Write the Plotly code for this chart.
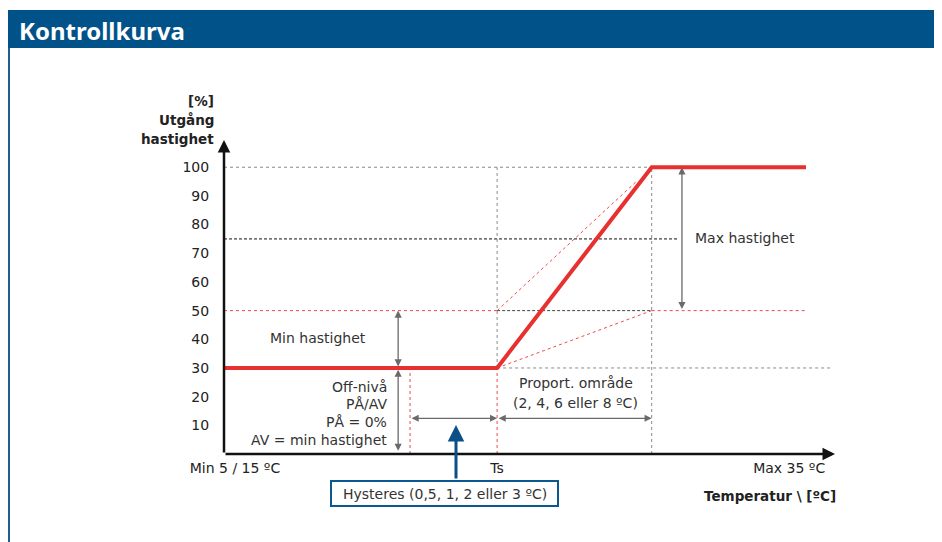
import plotly.graph_objects as go

# ---------------- data ----------------
X_MIN = 0.0
HYST_START = 6.09
TS = 8.94
PROP_END = 14.0
CURVE_END = 19.05
X_MAX = 20.0
Y_MAX = 109.5

MIN_SPEED = 30
MID_SPEED = 50
REF_SPEED = 75
MAX_SPEED = 100

curve_x = [X_MIN, TS, PROP_END, CURVE_END]
curve_y = [MIN_SPEED, MIN_SPEED, MAX_SPEED, MAX_SPEED]

y_ticks = [10, 20, 30, 40, 50, 60, 70, 80, 90, 100]
x_tick_vals = [0.36, TS, 18.5]
x_tick_text = ["Min 5 / 15 ºC", "Ts", "Max 35 ºC"]

# ---------------- layout helpers ----------------
# the page body has an 8px margin, so the figure is 8px smaller and offset
OFF = 8
W, H = 942 - OFF, 542 - OFF
ML, MR, MT, MB = 224 - OFF, 107, 140 - OFF, 88
PW, PH = W - ML - MR, H - MT - MB
FONT = "DejaVu Sans"
FS = 14
TXT = "#333333"
RED = "#e8302f"
RED_DOT = "#ee4a4a"
GRAY_DOT = "#8a8a8a"
ARROW_GRAY = "#6a6a6a"


def xp(px):
    return (px - OFF - ML) / PW


def yp(py):
    return (H - MB - (py - OFF)) / PH


fig = go.Figure()

fig.add_trace(go.Scatter(
    x=curve_x, y=curve_y, mode="lines",
    line=dict(color=RED, width=4),
    cliponaxis=False, hoverinfo="skip", showlegend=False,
))

shapes = []


def seg(x0, y0, x1, y1, color, dash="dot", width=1):
    shapes.append(dict(type="line", xref="x", yref="y", x0=x0, y0=y0, x1=x1, y1=y1,
                       line=dict(color=color, width=width, dash=dash), layer="below"))


# guide lines
seg(X_MIN, MAX_SPEED, PROP_END, MAX_SPEED, GRAY_DOT)
seg(X_MIN, REF_SPEED, 14.83, REF_SPEED, "#111111", "3px,2px")
seg(X_MIN, MID_SPEED, TS, MID_SPEED, RED_DOT)
seg(TS, MID_SPEED, PROP_END, MID_SPEED, "#444444", "3px,2px")
seg(PROP_END, MID_SPEED, CURVE_END, MID_SPEED, RED_DOT)
seg(TS, MIN_SPEED, 19.93, MIN_SPEED, GRAY_DOT)
seg(TS, MIN_SPEED, TS, MAX_SPEED, GRAY_DOT)
seg(TS, 0, TS, MIN_SPEED, RED_DOT)
seg(PROP_END, 0, PROP_END, MAX_SPEED, GRAY_DOT)
seg(HYST_START, 0, HYST_START, MIN_SPEED, RED_DOT)
seg(TS, MID_SPEED, PROP_END - 0.5, MAX_SPEED - 0.5 * 50 / (PROP_END - TS), RED_DOT)
seg(TS, MIN_SPEED, PROP_END, MID_SPEED, RED_DOT)

# header band + frame
shapes.append(dict(type="rect", xref="paper", yref="paper", x0=xp(7), x1=xp(943), y0=yp(48), y1=yp(10),
                   fillcolor="#02528a", line=dict(width=0), layer="above"))
shapes.append(dict(type="line", xref="paper", yref="paper", x0=xp(9), x1=xp(9), y0=yp(48), y1=yp(543),
                   line=dict(color="#1d5f93", width=2)))
# hysteresis box
shapes.append(dict(type="rect", xref="paper", yref="paper", x0=xp(331), x1=xp(558), y0=yp(506), y1=yp(481),
                   fillcolor="white", line=dict(color="#0e5890", width=2)))

ann = []


def arrow(x0, y0, x1, y1, color=ARROW_GRAY, width=1.3, both=True, head=2, size=1.1):
    ann.append(dict(x=x1, y=y1, ax=x0, ay=y0, xref="x", yref="y", axref="x", ayref="y",
                    text="", showarrow=True, arrowhead=head, startarrowhead=head,
                    arrowsize=size, startarrowsize=size, arrowwidth=width, arrowcolor=color,
                    arrowside="end+start" if both else "end", standoff=0, startstandoff=0))


def text(x, y, s, ref="x", size=FS, anchor="center", bold=False, color=TXT, family=FONT):
    ann.append(dict(x=x, y=y, xref=ref, yref="y" if ref == "x" else "paper", text=f"<b>{s}</b>" if bold else s,
                    showarrow=False, xanchor=anchor, yanchor="middle",
                    font=dict(family=family, size=size, color=color)))


# axes with arrowheads
arrow(X_MIN, 0, X_MIN, Y_MAX, color="#111111", width=2.5, both=False, head=2, size=1.0)
arrow(X_MIN, 0, X_MAX, 0, color="#111111", width=2.5, both=False, head=2, size=1.0)

# dimension arrows
arrow(5.70, MIN_SPEED, 5.70, MID_SPEED)
arrow(5.70, 0.6, 5.70, MIN_SPEED - 0.6)
arrow(14.99, MID_SPEED, 14.99, MAX_SPEED)
arrow(HYST_START, 12.45, TS, 12.45)
arrow(TS, 12.45, PROP_END, 12.45)

# annotation texts
text(3.08, 40.3, "Min hastighet")
for yy, s in zip([23.3, 17.3, 11.0, 4.8], ["Off-nivå", "PÅ/AV", "PÅ = 0%", "AV = min hastighet"]):
    text(5.40, yy, s, anchor="right")
text(15.35, 75.2, "Max hastighet", anchor="left")
text(11.52, 24.7, "Proport. område")
text(11.52, 17.7, "(2, 4, 6 eller 8 ºC)")

# outside texts (paper)
text(xp(17), yp(30), "Kontrollkurva", ref="paper", size=24, anchor="left", bold=True, color="white",
     family="Noto Sans")
text(xp(216), yp(101), "[%]", ref="paper", size=13.5, anchor="right", bold=True, color="#222222")
text(xp(216), yp(120), "Utgång", ref="paper", size=13.5, anchor="right", bold=True, color="#222222")
text(xp(216), yp(139), "hastighet", ref="paper", size=13.5, anchor="right", bold=True, color="#222222")
text(xp(838), yp(496), "Temperatur \\ [ºC]", ref="paper", size=13.5, anchor="right", bold=True, color="#222222")
text(xp(445), yp(494), "Hysteres (0,5, 1, 2 eller 3 ºC)", ref="paper", size=FS)

# blue pointer arrow
ann.append(dict(x=xp(456), y=yp(425), xref="paper", yref="paper", ax=0, ay=55,
                text="", showarrow=True, arrowhead=2, arrowsize=1.1, arrowwidth=3,
                arrowcolor="#0b4f86", standoff=0))

fig.update_layout(
    width=W, height=H,
    margin=dict(l=ML, r=MR, t=MT, b=MB),
    paper_bgcolor="white", plot_bgcolor="white",
    shapes=shapes, annotations=ann,
    font=dict(family=FONT, size=FS, color="#222222"),
    xaxis=dict(range=[X_MIN, X_MAX], showgrid=False, zeroline=False, showline=False,
               tickvals=x_tick_vals, ticktext=x_tick_text, ticks="outside", ticklen=1,
               tickcolor="rgba(0,0,0,0)", tickfont=dict(family=FONT, size=FS, color="#222222"),
               fixedrange=True),
    yaxis=dict(range=[0, Y_MAX], showgrid=False, zeroline=False, showline=False,
               tickvals=y_ticks, ticks="outside", ticklen=11, tickcolor="rgba(0,0,0,0)",
               tickfont=dict(family=FONT, size=FS, color="#222222"), fixedrange=True),
    showlegend=False,
)

fig.write_html("out.html")
